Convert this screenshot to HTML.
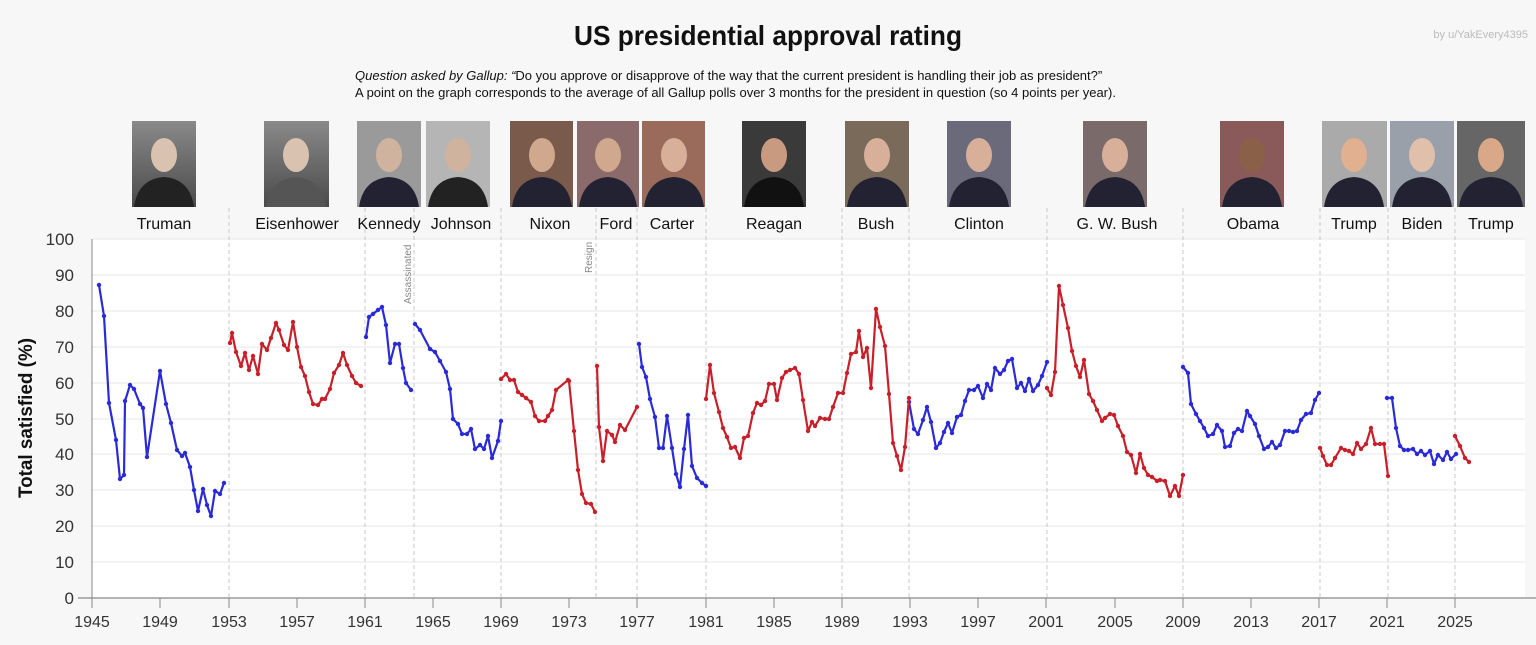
<!DOCTYPE html>
<html><head><meta charset="utf-8"><style>
html,body{margin:0;padding:0;background:#f7f7f7;}
svg{display:block;font-family:"Liberation Sans","DejaVu Sans",sans-serif;}
</style></head><body>
<svg width="1536" height="645" viewBox="0 0 1536 645" xmlns="http://www.w3.org/2000/svg">
<defs>
<linearGradient id="bg" x1="0" y1="0" x2="0" y2="1"><stop offset="0" stop-color="#8a8a8a"/><stop offset="1" stop-color="#4a4a4a"/></linearGradient>
<marker id="mb" markerUnits="userSpaceOnUse" markerWidth="6" markerHeight="6" refX="3" refY="3"><circle cx="3" cy="3" r="2.2" fill="#2b2bd6"/></marker>
<marker id="mr" markerUnits="userSpaceOnUse" markerWidth="6" markerHeight="6" refX="3" refY="3"><circle cx="3" cy="3" r="2.2" fill="#c8202a"/></marker>
</defs>
<rect width="1536" height="645" fill="#f7f7f7"/>
<text x="768" y="45" text-anchor="middle" font-size="28" font-weight="bold" fill="#111" textLength="388" lengthAdjust="spacingAndGlyphs">US presidential approval rating</text>
<text x="1528" y="38" text-anchor="end" font-size="11" fill="#bbb">by u/YakEvery4395</text>
<text x="355" y="80" font-size="13" fill="#111"><tspan font-style="italic">Question asked by Gallup: “</tspan>Do you approve or disapprove of the way that the current president is handling their job as president?”</text>
<text x="355" y="97" font-size="13" fill="#111">A point on the graph corresponds to the average of all Gallup polls over 3 months for the president in question (so 4 points per year).</text>
<rect x="92" y="239" width="1433" height="359" fill="#fff"/>
<g stroke="#ececec" stroke-width="1.2">
<line x1="92" x2="1525" y1="239" y2="239"/><line x1="92" x2="1525" y1="275" y2="275"/><line x1="92" x2="1525" y1="311" y2="311"/><line x1="92" x2="1525" y1="347" y2="347"/><line x1="92" x2="1525" y1="383" y2="383"/><line x1="92" x2="1525" y1="419" y2="419"/><line x1="92" x2="1525" y1="454" y2="454"/><line x1="92" x2="1525" y1="490" y2="490"/><line x1="92" x2="1525" y1="526" y2="526"/><line x1="92" x2="1525" y1="562" y2="562"/>
</g>
<g stroke="#c8c8c8" stroke-width="1" stroke-dasharray="4,3">
<line x1="229" x2="229" y1="208" y2="598"/><line x1="365" x2="365" y1="208" y2="598"/><line x1="414" x2="414" y1="208" y2="598"/><line x1="501" x2="501" y1="208" y2="598"/><line x1="596" x2="596" y1="208" y2="598"/><line x1="637" x2="637" y1="208" y2="598"/><line x1="706" x2="706" y1="208" y2="598"/><line x1="842" x2="842" y1="208" y2="598"/><line x1="909" x2="909" y1="208" y2="598"/><line x1="1047" x2="1047" y1="208" y2="598"/><line x1="1183" x2="1183" y1="208" y2="598"/><line x1="1320" x2="1320" y1="208" y2="598"/><line x1="1388" x2="1388" y1="208" y2="598"/><line x1="1455" x2="1455" y1="208" y2="598"/>
</g>
<text transform="translate(411,304) rotate(-90)" font-size="10" fill="#888">Assassinated</text>
<text transform="translate(592,273) rotate(-90)" font-size="10" fill="#888">Resign</text>
<line x1="92" x2="92" y1="239" y2="598" stroke="#888" stroke-width="1"/>
<line x1="78" x2="1536" y1="598" y2="598" stroke="#888" stroke-width="1.2"/>
<g font-size="17" fill="#333" text-anchor="end">
<text x="74" y="245">100</text><text x="74" y="281">90</text><text x="74" y="317">80</text><text x="74" y="353">70</text><text x="74" y="389">60</text><text x="74" y="425">50</text><text x="74" y="460">40</text><text x="74" y="496">30</text><text x="74" y="532">20</text><text x="74" y="568">10</text><text x="74" y="604">0</text>
</g>
<g stroke="#888" stroke-width="1">
<line x1="92" x2="92" y1="598" y2="608"/><line x1="160" x2="160" y1="598" y2="608"/><line x1="229" x2="229" y1="598" y2="608"/><line x1="297" x2="297" y1="598" y2="608"/><line x1="365" x2="365" y1="598" y2="608"/><line x1="433" x2="433" y1="598" y2="608"/><line x1="501" x2="501" y1="598" y2="608"/><line x1="569" x2="569" y1="598" y2="608"/><line x1="637" x2="637" y1="598" y2="608"/><line x1="706" x2="706" y1="598" y2="608"/><line x1="774" x2="774" y1="598" y2="608"/><line x1="842" x2="842" y1="598" y2="608"/><line x1="910" x2="910" y1="598" y2="608"/><line x1="978" x2="978" y1="598" y2="608"/><line x1="1046" x2="1046" y1="598" y2="608"/><line x1="1115" x2="1115" y1="598" y2="608"/><line x1="1183" x2="1183" y1="598" y2="608"/><line x1="1251" x2="1251" y1="598" y2="608"/><line x1="1319" x2="1319" y1="598" y2="608"/><line x1="1387" x2="1387" y1="598" y2="608"/><line x1="1455" x2="1455" y1="598" y2="608"/>
</g>
<g font-size="16" fill="#333" text-anchor="middle">
<text x="92" y="627">1945</text><text x="160" y="627">1949</text><text x="229" y="627">1953</text><text x="297" y="627">1957</text><text x="365" y="627">1961</text><text x="433" y="627">1965</text><text x="501" y="627">1969</text><text x="569" y="627">1973</text><text x="637" y="627">1977</text><text x="706" y="627">1981</text><text x="774" y="627">1985</text><text x="842" y="627">1989</text><text x="910" y="627">1993</text><text x="978" y="627">1997</text><text x="1046" y="627">2001</text><text x="1115" y="627">2005</text><text x="1183" y="627">2009</text><text x="1251" y="627">2013</text><text x="1319" y="627">2017</text><text x="1387" y="627">2021</text><text x="1455" y="627">2025</text>
</g>
<text transform="translate(32,418) rotate(-90)" text-anchor="middle" font-size="19" font-weight="bold" fill="#111" textLength="160" lengthAdjust="spacingAndGlyphs">Total satisfied (%)</text>
<g id="photos">
<g transform="translate(132,121)"><rect width="64" height="86" fill="url(#bg)"/><ellipse cx="32" cy="34" rx="13" ry="17" fill="#d9c3b0"/><path d="M2 86 Q6 58 32 56 Q58 58 62 86Z" fill="#222"/></g>
<g transform="translate(264,121)"><rect width="65" height="86" fill="url(#bg)"/><ellipse cx="32" cy="34" rx="13" ry="17" fill="#d9c3b0"/><path d="M2 86 Q6 58 32 56 Q58 58 62 86Z" fill="#555"/></g>
<g transform="translate(357,121)"><rect width="64" height="86" fill="#9a9a9a"/><ellipse cx="32" cy="34" rx="13" ry="17" fill="#d0b39e"/><path d="M2 86 Q6 58 32 56 Q58 58 62 86Z" fill="#223"/></g>
<g transform="translate(426,121)"><rect width="64" height="86" fill="#b5b5b5"/><ellipse cx="32" cy="34" rx="13" ry="17" fill="#d0b39e"/><path d="M2 86 Q6 58 32 56 Q58 58 62 86Z" fill="#222"/></g>
<g transform="translate(510,121)"><rect width="63" height="86" fill="#7a5a4a"/><ellipse cx="32" cy="34" rx="13" ry="17" fill="#d0a88e"/><path d="M2 86 Q6 58 32 56 Q58 58 62 86Z" fill="#223"/></g>
<g transform="translate(577,121)"><rect width="62" height="86" fill="#8a6a6a"/><ellipse cx="31" cy="34" rx="13" ry="17" fill="#d0a88e"/><path d="M2 86 Q6 58 31 56 Q56 58 60 86Z" fill="#223"/></g>
<g transform="translate(642,121)"><rect width="63" height="86" fill="#9a6a5a"/><ellipse cx="32" cy="34" rx="13" ry="17" fill="#d8b09a"/><path d="M2 86 Q6 58 32 56 Q58 58 62 86Z" fill="#223"/></g>
<g transform="translate(742,121)"><rect width="64" height="86" fill="#3a3a3a"/><ellipse cx="32" cy="34" rx="13" ry="17" fill="#c89a80"/><path d="M2 86 Q6 58 32 56 Q58 58 62 86Z" fill="#111"/></g>
<g transform="translate(845,121)"><rect width="64" height="86" fill="#7a6a5a"/><ellipse cx="32" cy="34" rx="13" ry="17" fill="#d8b09a"/><path d="M2 86 Q6 58 32 56 Q58 58 62 86Z" fill="#223"/></g>
<g transform="translate(947,121)"><rect width="64" height="86" fill="#6a6a7a"/><ellipse cx="32" cy="34" rx="13" ry="17" fill="#d8b09a"/><path d="M2 86 Q6 58 32 56 Q58 58 62 86Z" fill="#223"/></g>
<g transform="translate(1083,121)"><rect width="64" height="86" fill="#7a6a6a"/><ellipse cx="32" cy="34" rx="13" ry="17" fill="#d8b09a"/><path d="M2 86 Q6 58 32 56 Q58 58 62 86Z" fill="#223"/></g>
<g transform="translate(1220,121)"><rect width="64" height="86" fill="#8a5a5a"/><ellipse cx="32" cy="34" rx="13" ry="17" fill="#8a6048"/><path d="M2 86 Q6 58 32 56 Q58 58 62 86Z" fill="#223"/></g>
<g transform="translate(1322,121)"><rect width="65" height="86" fill="#aaa"/><ellipse cx="32" cy="34" rx="13" ry="17" fill="#e0b090"/><path d="M2 86 Q6 58 32 56 Q58 58 62 86Z" fill="#223"/></g>
<g transform="translate(1390,121)"><rect width="64" height="86" fill="#9aa0aa"/><ellipse cx="32" cy="34" rx="13" ry="17" fill="#e0c0aa"/><path d="M2 86 Q6 58 32 56 Q58 58 62 86Z" fill="#223"/></g>
<g transform="translate(1457,121)"><rect width="68" height="86" fill="#666"/><ellipse cx="34" cy="34" rx="13" ry="17" fill="#d8a888"/><path d="M2 86 Q6 58 34 56 Q62 58 66 86Z" fill="#223"/></g>
</g>
<g font-size="16" fill="#111" text-anchor="middle">
<text x="164" y="229">Truman</text><text x="297" y="229">Eisenhower</text><text x="389" y="229">Kennedy</text><text x="461" y="229">Johnson</text><text x="550" y="229">Nixon</text><text x="616" y="229">Ford</text><text x="672" y="229">Carter</text><text x="774" y="229">Reagan</text><text x="876" y="229">Bush</text><text x="979" y="229">Clinton</text><text x="1117" y="229">G. W. Bush</text><text x="1253" y="229">Obama</text><text x="1354" y="229">Trump</text><text x="1422" y="229">Biden</text><text x="1491" y="229">Trump</text>
</g>
<g fill="none" stroke-width="2.2" stroke-linejoin="round">
<g stroke="#2b2bd6" marker-start="url(#mb)" marker-mid="url(#mb)" marker-end="url(#mb)">
<polyline points="99,285 104,316 109,403 116,440 120,479 124,475 125,401 130,385 134,389 140,404 143,408 147,457 160,371 166,404 171,423 177,450 182,456 185,453 190,467 194,490 198,511 203,489 207,505 211,516 215,491 220,494 224,483"/>
<polyline points="366,337 369,317 373,314 378,310 382,307 386,325 390,363 395,344 399,344 403,368 406,383 411,390"/>
<polyline points="415,324 420,330 430,349 435,352 440,361 446,372 450,389 453,419 458,424 462,434 467,434 471,429 475,449 480,445 484,449 488,436 492,458 498,441 501,421"/>
<polyline points="639,344 642,367 646,377 650,399 655,417 659,448 663,448 667,416 672,448 676,474 680,487 684,449 688,415 692,466 697,478 702,483 706,486"/>
<polyline points="909,402 914,429 918,434 923,420 927,407 931,422 936,448 940,443 944,432 948,423 952,433 957,417 961,415 965,401 969,390 974,390 978,386 983,398 987,384 991,390 995,368 1000,374 1004,370 1008,361 1012,359 1017,388 1021,383 1025,391 1029,379 1033,391 1038,385 1042,376 1047,362"/>
<polyline points="1183,367 1188,373 1191,404 1196,414 1200,421 1204,428 1208,436 1213,434 1217,425 1222,431 1225,447 1230,446 1234,433 1238,429 1242,431 1247,411 1250,416 1255,424 1259,436 1264,449 1268,447 1272,442 1276,448 1280,445 1285,431 1289,431 1293,432 1297,431 1301,420 1306,414 1311,413 1315,400 1319,393"/>
<polyline points="1387,398 1392,398 1396,428 1400,446 1404,450 1408,450 1413,449 1417,454 1421,451 1425,455 1430,451 1434,464 1438,455 1443,460 1447,452 1451,459 1456,454"/>
</g>
<g stroke="#c8202a" marker-start="url(#mr)" marker-mid="url(#mr)" marker-end="url(#mr)">
<polyline points="230,343 232,333 236,352 241,366 245,353 249,370 253,356 258,374 262,344 267,350 271,338 276,323 279,330 284,345 288,350 293,322 297,347 301,367 305,376 309,392 313,404 318,405 322,399 325,399 330,389 334,373 339,365 343,353 347,365 352,376 356,383 361,386"/>
<polyline points="501,379 506,374 510,380 514,380 518,392 522,395 526,398 531,402 535,416 539,421 545,421 548,416 552,410 556,390 568,380 569,381 574,431 578,470 582,494 586,503 591,504 595,512"/>
<polyline points="597,366 599,427 603,461 607,431 612,435 615,442 620,425 625,430 637,407"/>
<polyline points="706,399 710,365 714,393 719,412 723,428 727,437 731,448 735,447 740,458 744,438 748,436 753,413 757,403 761,405 765,401 769,384 774,384 777,400 782,378 786,372 790,370 795,368 799,374 803,400 808,431 812,422 815,426 820,418 825,419 829,419 833,407 838,393 843,393 847,373 851,354 856,352 859,331 863,357 867,348 871,388 876,309 880,327 885,346 889,394 893,443 897,456 901,470 905,447 909,398"/>
<polyline points="1047,388 1051,395 1055,372 1059,286 1063,305 1068,328 1072,351 1076,366 1080,377 1084,360 1089,394 1093,401 1097,410 1102,421 1105,418 1110,414 1114,415 1118,426 1123,436 1127,452 1131,455 1136,473 1140,454 1144,468 1148,475 1152,477 1157,481 1160,480 1165,481 1170,496 1175,486 1179,496 1183,475"/>
<polyline points="1320,448 1323,456 1327,465 1331,465 1335,458 1341,448 1345,450 1349,451 1353,454 1357,443 1361,449 1366,444 1371,428 1375,444 1380,444 1384,444 1388,476"/>
<polyline points="1455,436 1460,446 1465,458 1469,462"/>
</g>
</g>
</svg>
</body></html>
